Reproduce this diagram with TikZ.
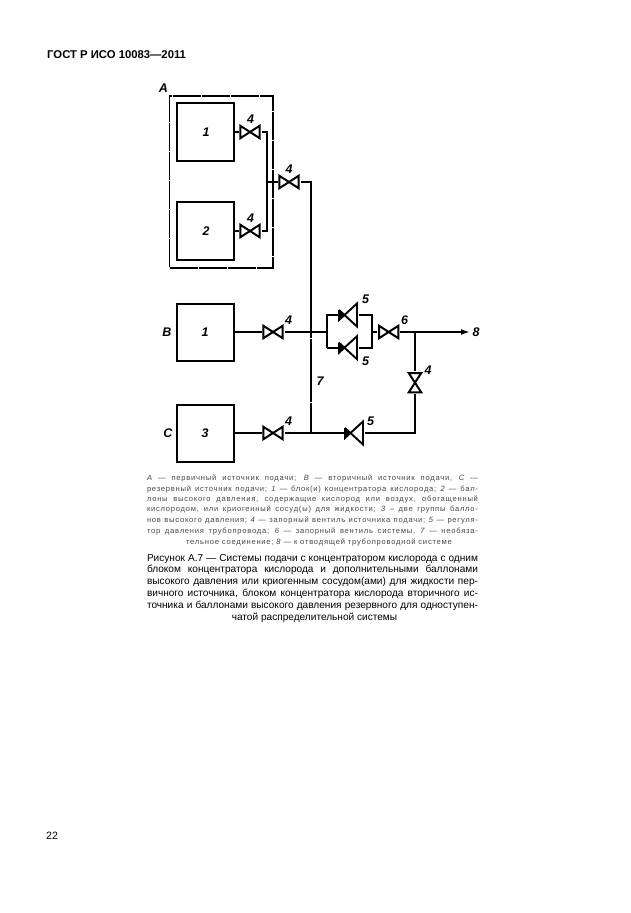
\documentclass[tikz,border=0pt]{standalone}
\usepackage{fontspec}
\setmainfont{Liberation Sans}
\newfontfamily\legendfont[LetterSpace=10]{Liberation Sans}
\usetikzlibrary{arrows.meta}
\newcommand{\lgl}[1]{\makebox[331pt][s]{\fontsize{7.6pt}{8pt}\legendfont #1}}
\newcommand{\cpl}[1]{\makebox[331pt][s]{\fontsize{10.1pt}{12pt}\selectfont #1}}
\tikzset{
  x=1pt,y=-1pt,
  srcbox/.style={draw=black,line width=2.4pt,minimum width=57pt,minimum height=57.5pt,inner sep=0pt},
  pipe/.style={line width=2.3pt,black},
  thinpipe/.style={line width=1.7pt,black},
  lbl/.style={font=\fontsize{12.5pt}{13pt}\selectfont\bfseries\itshape,inner sep=0pt},
  valve/.style={minimum width=23pt,minimum height=17pt,inner sep=0pt,outer sep=0pt,
    path picture={\draw[line width=2pt,line join=miter,miter limit=3]
      (-9.6,-6.2)--(9.6,6.2)--(9.6,-6.2)--(-9.6,6.2)--cycle;}},
  reg/.style={minimum width=21pt,minimum height=27pt,inner sep=0pt,outer sep=0pt,
    path picture={
      \fill (-9,-5)--(-3,0)--(-9,5)--cycle;
      \draw[line width=1.9pt,line join=miter,miter limit=3]
      (-9,-5)--(-9,5)--(9,-11.5)--(9,11.5)--(-9,-5);}},
  txt/.style={inner sep=0pt,anchor=center,text=black},
  lg/.style={txt,text=black!72},
}
\begin{document}
\begin{tikzpicture}
\useasboundingbox[fill=white] (0,0) rectangle (630,913);
% header / footer
\node[txt,anchor=west,font=\fontsize{11.3pt}{12pt}\selectfont\bfseries] (head) at (47,55) {ГОСТ Р ИСО 10083—2011};
\node[txt,anchor=west,font=\fontsize{10.6pt}{12pt}\selectfont] (page) at (46,836) {22};
% group A
\node[draw=black,line width=1.6pt,dash pattern=on 28pt off 1pt,minimum width=103.5pt,minimum height=172pt,inner sep=0pt] (groupA) at (221.25,182) {};
\node[srcbox] (b1) at (205.5,132) {}; \node[lbl] (t1) at (206,132) {1};
\node[srcbox] (b2) at (205.5,231) {}; \node[lbl] (t2) at (206,231) {2};
\node[srcbox] (b3) at (205.5,332.5) {}; \node[lbl] (t3) at (205,332) {1};
\node[srcbox] (b4) at (205.5,433.5) {}; \node[lbl] (t4) at (205,433) {3};
% valves
\node[valve] (v1) at (250,132) {};
\node[valve] (v2) at (250,231) {};
\node[valve] (v3) at (289,182) {};
\node[valve] (v4) at (273,332) {};
\node[valve] (v5) at (273,433) {};
\node[valve] (v6) at (388.7,332) {};
\node[valve,rotate=90] (v7) at (415,382.7) {};
\node[reg] (r1) at (348,315) {};
\node[reg] (r2) at (348,347.7) {};
\node[reg] (r3) at (354,433) {};
% junction points
\coordinate (ja) at (267.3,182);
\coordinate (jb) at (267.3,132);
\coordinate (jc) at (267.3,231);
\coordinate (jd) at (311,182);
\coordinate (je) at (311,332);
\coordinate (jf) at (311,433);
\coordinate (jg) at (326.7,332);
\coordinate (jh) at (372,332);
\coordinate (ji) at (415,332);
\coordinate (jj) at (415,433);
\coordinate (jk) at (326.7,315);
\coordinate (jl) at (326.7,347.7);
\coordinate (jm) at (372,315);
\coordinate (jn) at (372,347.7);
\coordinate (out) at (470,332);
\coordinate (e3) at (234,332);
\coordinate (e4) at (234,433);
% connectors
\draw[thinpipe] (b1.east) -- (v1);
\draw[thinpipe] (b2.east) -- (v2);
\draw[thinpipe] (v1) -- (jb) -- (jc) -- (v2);
\draw[thinpipe] (ja) -- (v3);
\draw[thinpipe] (v3) -- (jd) -- (je);
\draw[thinpipe,dash pattern=on 6pt off 0.7pt on 57pt off 0.7pt] (je) -- (jf);
\draw[pipe] (e3) -- (v4);
\draw[pipe] (v4) -- (jg);
\draw[pipe] (jl) -- (jk) -- (r1);
\draw[pipe] (jl) -- (r2);
\draw[pipe] (r1) -- (jm) -- (jn) -- (r2);
\draw[pipe] (jh) -- (v6);
\draw[pipe] (v6) -- (ji);
\draw[pipe,-{Latex[length=9pt,width=6pt]}] (ji) -- (out);
\draw[thinpipe] (ji) -- (v7);
\draw[pipe] (v7) -- (jj) -- (r3);
\draw[pipe] (r3) -- (jf);
\draw[pipe] (jf) -- (v5);
\draw[pipe] (v5) -- (e4);
% labels
\node[lbl] (la) at (163.5,88) {A};
\node[lbl] (lb) at (167,332) {B};
\node[lbl] (lc) at (168,433) {C};
\node[lbl] (n1) at (250.7,119) {4};
\node[lbl] (n2) at (250.7,217.7) {4};
\node[lbl] (n3) at (289,169) {4};
\node[lbl] (n4) at (288.7,320) {4};
\node[lbl] (n5) at (365.7,299.3) {5};
\node[lbl] (n6) at (365.7,361.7) {5};
\node[lbl] (n7) at (404.7,319.7) {6};
\node[lbl] (n8) at (428,370) {4};
\node[lbl] (n9) at (320,380.7) {7};
\node[lbl] (n10) at (288.7,421) {4};
\node[lbl] (n11) at (370.7,421) {5};
\node[lbl] (n12) at (476,332) {8};
% legend
\node[lg] (g1) at (312.5,478.3) {\lgl{\itshape A\upshape{} — первичный источник подачи; \itshape B\upshape{} — вторичный источник подачи, \itshape C\upshape{} —}};
\node[lg] (g2) at (312.5,489) {\lgl{резервный источник подачи; \itshape 1\upshape{} — блок(и) концентратора кислорода; \itshape 2\upshape{} — бал-}};
\node[lg] (g3) at (312.5,499.5) {\lgl{лоны высокого давления, содержащие кислород или воздух, обогащенный}};
\node[lg] (g4) at (312.5,509.7) {\lgl{кислородом, или криогенный сосуд(ы) для жидкости; \itshape 3\upshape{} – две группы балло-}};
\node[lg] (g5) at (312.5,520) {\lgl{нов высокого давления; \itshape 4\upshape{} — запорный вентиль источника подачи; \itshape 5\upshape{} — регуля-}};
\node[lg] (g6) at (312.5,531) {\lgl{тор давления трубопровода; \itshape 6\upshape{} — запорный вентиль системы, \itshape 7\upshape{} — необяза-}};
\node[lg,font=\fontsize{7.6pt}{8pt}\legendfont] (g7) at (319,542.3) {тельное соединение; \itshape 8\upshape{} — к отводящей трубопроводной системе};
% caption
\node[txt] (c1) at (312.5,559) {\cpl{Рисунок А.7 — Системы подачи с концентратором кислорода с одним}};
\node[txt] (c2) at (312.5,570) {\cpl{блоком концентратора кислорода и дополнительными баллонами}};
\node[txt] (c3) at (312.5,581.7) {\cpl{высокого давления или криогенным сосудом(ами) для жидкости пер-}};
\node[txt] (c4) at (312.5,594) {\cpl{вичного источника, блоком концентратора кислорода вторичного ис-}};
\node[txt] (c5) at (312.5,606) {\cpl{точника и баллонами высокого давления резервного для одноступен-}};
\node[txt,font=\fontsize{10.1pt}{12pt}\selectfont] (c6) at (314.5,618) {чатой распределительной системы};
\end{tikzpicture}
\end{document}
